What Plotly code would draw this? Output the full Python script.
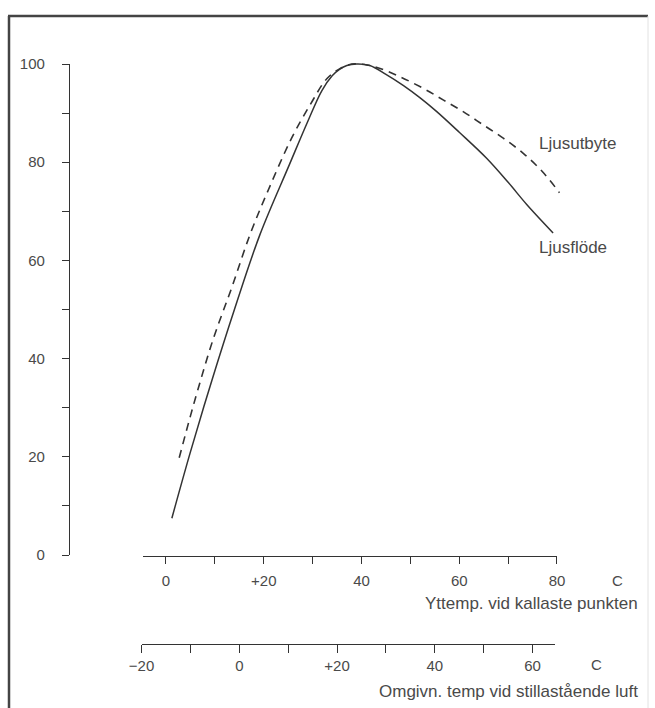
import plotly.graph_objects as go

# ---------------- data ----------------
# upper temperature scale (Yttemp. vid kallaste punkten, °C)
flux_temp = [1.2, 5, 9.4, 14, 19.2, 25.2, 29, 31.9, 34, 35.5, 37, 39, 41.7, 45,
             48.6, 52, 55.4, 60, 65.6, 70, 73.8, 79.2]
flux_val = [7.5, 21, 35.6, 50, 65.2, 79.4, 88.3, 94.6, 97.6, 98.9, 99.7, 100, 99.7,
            97.9, 95.6, 93.1, 90.3, 86.1, 80.8, 75.9, 71.4, 65.6]

yield_temp = [2.7, 4.5, 6.5, 9.6, 13.5, 17.2, 21, 25.7, 29.5, 32.9, 35.5, 38, 40.5,
              43.8, 47.9, 52.7, 56.7, 60.8, 64.9, 69, 73.1, 76.9, 80.5]
yield_val = [19.8, 26.5, 33.6, 43.8, 54.6, 65.3, 74.5, 84.9, 91.7, 97, 99, 100, 99.9,
             99.1, 97.4, 95, 92.7, 90.3, 87.6, 84.9, 81.8, 78.2, 73.8]

y_ticks = [0, 10, 20, 30, 40, 50, 60, 70, 80, 90, 100]
y_ticktext = ["0", "", "20", "", "40", "", "60", "", "80", "", "100"]

upper_ticks = [0, 10, 20, 30, 40, 50, 60, 70, 80]
upper_ticktext = ["0", "", "+20", "", "40", "", "60", "", "80"]

lower_ticks = [-20, -10, 0, 10, 20, 30, 40, 50, 60]
lower_ticktext = ["\u221220", "", "0", "", "+20", "", "40", "", "60"]

series_names = ["Ljusutbyte", "Ljusflöde"]
upper_title = "Yttemp. vid kallaste punkten"
lower_title = "Omgivn. temp vid stillastående luft"
unit = "C"
LOWER_OFFSET = 15  # lower scale = upper scale - 15

# ---------------- layout calibration ----------------
W, H = 655, 708
X0_PX, X_PER = 166.0, 4.8875   # px of upper 0 °C, px per degree
Y0_PX, Y_PER = 555.0, 4.91     # px of value 0, px per unit
INK = "#333333"
TXT = "#4a4a4a"
FONT = "Liberation Sans, Arial, sans-serif"


def px_x(t):
    return X0_PX + X_PER * t


def paper_x(px):
    return px / W


def paper_y(py):
    return 1 - py / H


upper_min, upper_max = -4.7, 80
lower_min, lower_max = -20, 64.6

fig = go.Figure()

# curves on full-figure (hidden) axes sharing the same scale
fig.add_trace(go.Scatter(x=yield_temp, y=yield_val, mode="lines", name=series_names[0],
                         line=dict(color=INK, width=1.6, dash="8px,6px", shape="spline", smoothing=1.0),
                         xaxis="x", yaxis="y", showlegend=False))
fig.add_trace(go.Scatter(x=flux_temp, y=flux_val, mode="lines", name=series_names[1],
                         line=dict(color=INK, width=1.5, shape="spline", smoothing=1.0),
                         xaxis="x", yaxis="y", showlegend=False))

# dummy traces so the visible axes get subplots
fig.add_trace(go.Scatter(x=[None], y=[None], xaxis="x2", yaxis="y2", showlegend=False, hoverinfo="skip"))
fig.add_trace(go.Scatter(x=[None], y=[None], xaxis="x3", yaxis="y2", showlegend=False, hoverinfo="skip"))

axis_common = dict(showgrid=False, zeroline=False, showline=True, linecolor=INK, linewidth=1.3,
                   ticks="outside", tickcolor=INK, tickwidth=1.3, fixedrange=True, automargin=False,
                   tickfont=dict(family=FONT, size=15, color=TXT))

fig.update_layout(
    template="none",
    width=W, height=H,
    margin=dict(l=0, r=0, t=0, b=0, pad=0),
    paper_bgcolor="white", plot_bgcolor="rgba(0,0,0,0)",
    xaxis=dict(domain=[0, 1], range=[(0 - X0_PX) / X_PER, (W - X0_PX) / X_PER], visible=False,
               fixedrange=True, automargin=False),
    yaxis=dict(domain=[0, 1], range=[-(H - Y0_PX) / Y_PER, Y0_PX / Y_PER], visible=False,
               fixedrange=True, automargin=False),
    yaxis2=dict(axis_common, domain=[paper_y(Y0_PX), paper_y(Y0_PX - 100 * Y_PER)], range=[0, 100],
                tickvals=y_ticks, ticktext=y_ticktext, ticklen=7, anchor="free",
                position=paper_x(69), side="left", ticklabelstandoff=14),
    xaxis2=dict(axis_common, domain=[paper_x(px_x(upper_min)), paper_x(px_x(upper_max))],
                range=[upper_min, upper_max], tickvals=upper_ticks, ticktext=upper_ticktext,
                ticklen=7, anchor="free", position=paper_y(556), side="bottom", ticklabelstandoff=4),
    xaxis3=dict(axis_common, domain=[paper_x(px_x(lower_min + LOWER_OFFSET)),
                                     paper_x(px_x(lower_max + LOWER_OFFSET))],
                range=[lower_min, lower_max], tickvals=lower_ticks, ticktext=lower_ticktext,
                ticklen=8, anchor="free", position=paper_y(644), side="bottom", ticklabelstandoff=0),
    showlegend=False,
)

lab_font = dict(family=FONT, size=17, color=TXT)
ann = [
    dict(x=75.9, y=83.9, xref="x", yref="y", text=series_names[0], showarrow=False,
         xanchor="left", yanchor="middle", font=lab_font),
    dict(x=75.9, y=62.7, xref="x", yref="y", text=series_names[1], showarrow=False,
         xanchor="left", yanchor="middle", font=lab_font),
    dict(x=paper_x(617), y=paper_y(580), xref="paper", yref="paper", text=unit, showarrow=False,
         xanchor="center", yanchor="middle", font=dict(family=FONT, size=15, color=TXT)),
    dict(x=paper_x(640), y=paper_y(603), xref="paper", yref="paper", text=upper_title,
         showarrow=False, xanchor="right", yanchor="middle", font=lab_font),
    dict(x=paper_x(596), y=paper_y(664), xref="paper", yref="paper", text=unit, showarrow=False,
         xanchor="center", yanchor="middle", font=dict(family=FONT, size=15, color=TXT)),
    dict(x=paper_x(640), y=paper_y(691), xref="paper", yref="paper", text=lower_title,
         showarrow=False, xanchor="right", yanchor="middle", font=lab_font),
]
fig.update_layout(annotations=ann)

# page frame
fig.update_layout(shapes=[
    dict(type="line", xref="paper", yref="paper", x0=paper_x(9), x1=paper_x(9),
         y0=paper_y(16), y1=0, line=dict(color="#444444", width=2.5)),
    dict(type="line", xref="paper", yref="paper", x0=paper_x(8), x1=paper_x(648),
         y0=paper_y(16), y1=paper_y(16), line=dict(color="#444444", width=2.5)),
    dict(type="line", xref="paper", yref="paper", x0=paper_x(648), x1=paper_x(648),
         y0=paper_y(16), y1=0, line=dict(color="#e2e2e2", width=1)),
])

fig.write_html("out.html")
